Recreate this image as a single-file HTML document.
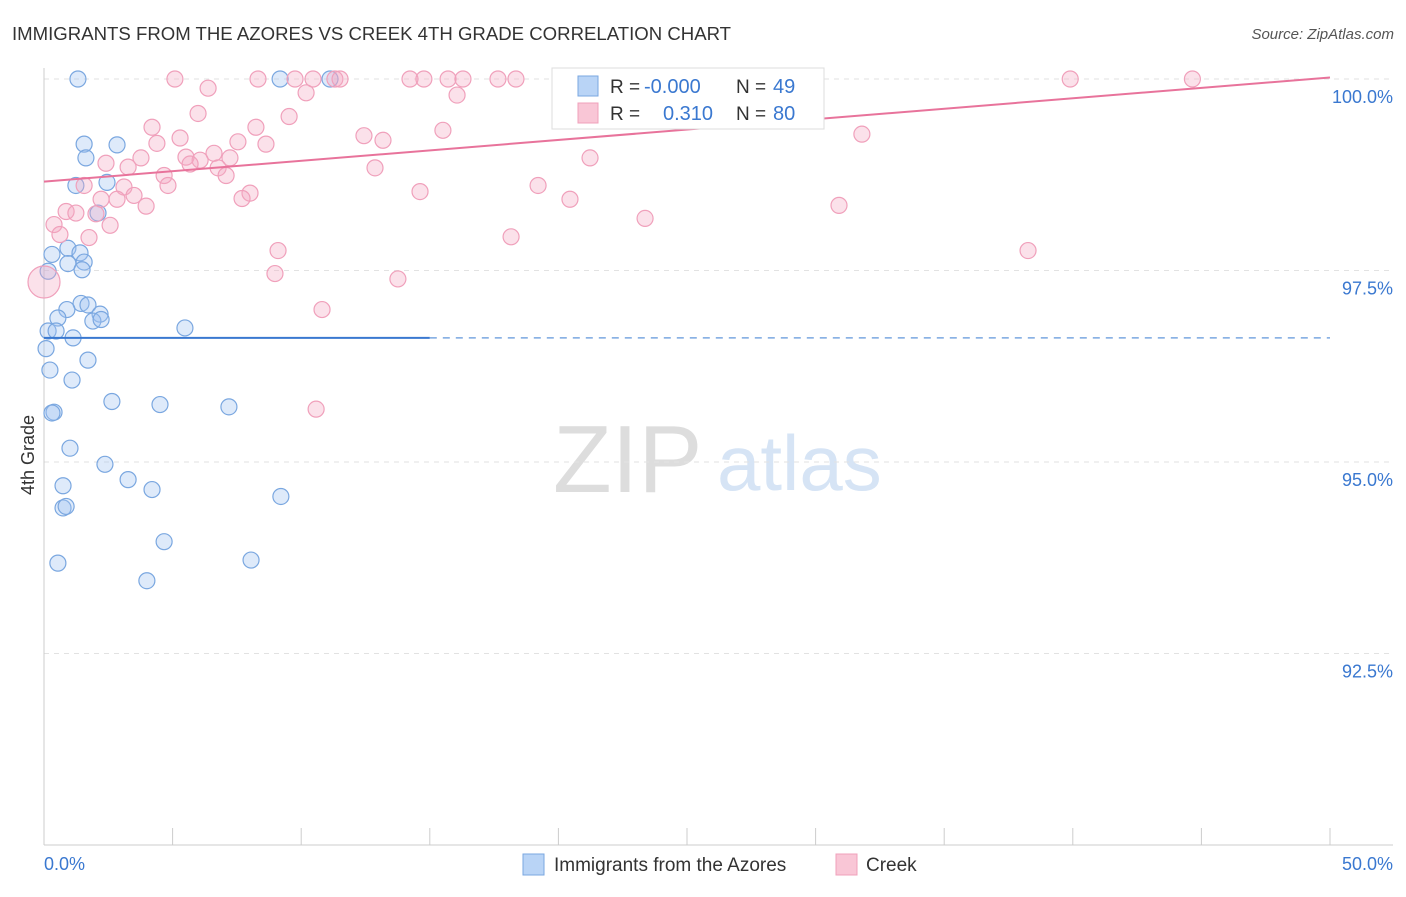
<!DOCTYPE html>
<html><head><meta charset="utf-8"><style>
body{margin:0;background:#fff;font-family:"Liberation Sans",sans-serif;}
svg text{font-family:"Liberation Sans",sans-serif;}
</style></head><body>
<svg id="chart" width="1406" height="892" xmlns="http://www.w3.org/2000/svg">
<text x="12" y="40" font-size="18.6" fill="#333">IMMIGRANTS FROM THE AZORES VS CREEK 4TH GRADE CORRELATION CHART</text>
<text x="1394" y="39" font-size="15" fill="#555" font-style="italic" text-anchor="end">Source: ZipAtlas.com</text>
<g>
<text x="553" y="492" font-size="96" fill="#ddd" font-family="Liberation Serif,serif">ZIP</text>
<text x="717" y="490" font-size="78" fill="#d6e4f5">atlas</text>
</g>
<g id="grid"></g>
<g id="axes"></g>
<g id="pts"></g>
<g id="lines"></g>
<text transform="translate(34,455) rotate(-90)" font-size="18" fill="#333" text-anchor="middle">4th Grade</text>
<g>
<rect x="552" y="68" width="272" height="61" fill="#fff" stroke="#ddd"/>
<rect x="578" y="76" width="20" height="20" fill="#b9d4f6" stroke="#7aa7e0"/>
<rect x="578" y="103" width="20" height="20" fill="#f9c6d6" stroke="#f0a0bb"/>
<text x="610" y="93" font-size="19" fill="#333">R =</text>
<text x="644" y="93" font-size="20" fill="#3a78d0">-0.000</text>
<text x="736" y="93" font-size="19" fill="#333">N =</text>
<text x="773" y="93" font-size="20" fill="#3a78d0">49</text>
<text x="610" y="120" font-size="19" fill="#333">R =</text>
<text x="663" y="120" font-size="20" fill="#3a78d0">0.310</text>
<text x="736" y="120" font-size="19" fill="#333">N =</text>
<text x="773" y="120" font-size="20" fill="#3a78d0">80</text>
</g>
<g>
<rect x="523" y="854" width="21" height="21" fill="#b9d4f6" stroke="#7aa7e0"/>
<text x="554" y="871" font-size="19" fill="#333">Immigrants from the Azores</text>
<rect x="836" y="854" width="21" height="21" fill="#f9c6d6" stroke="#f0a0bb"/>
<text x="866" y="871" font-size="19" fill="#333">Creek</text>
</g>
</svg>
<script>
const yTicks=[100,97.5,95,92.5];
const yTickLabels=["100.0%","97.5%","95.0%","92.5%"];
const xTicks=[0,5,10,15,20,25,30,35,40,45,50];
const blueX=[1.32,9.18,11.12,1.56,2.84,1.63,1.24,2.45,2.1,0.31,0.93,1.4,1.56,0.93,1.48,0.16,1.44,1.71,0.89,0.54,2.18,1.9,2.22,0.16,0.47,1.13,5.48,0.08,1.71,0.23,1.09,2.64,4.51,7.19,0.39,0.31,1.01,2.37,3.27,0.74,4.2,9.21,0.74,0.86,4.67,0.54,8.05,4.0];
const blueY=[100,100,100,99.15,99.14,98.97,98.61,98.65,98.25,97.71,97.79,97.73,97.61,97.59,97.51,97.49,97.07,97.05,96.99,96.88,96.93,96.84,96.86,96.71,96.71,96.62,96.75,96.48,96.33,96.2,96.07,95.79,95.75,95.72,95.65,95.64,95.18,94.97,94.77,94.69,94.64,94.55,94.4,94.42,93.96,93.68,93.72,93.45];
const pinkX=[5.09,8.32,9.76,10.46,11.31,11.51,14.23,14.77,15.71,16.29,17.65,18.35,22.39,22.9,39.9,44.65,6.38,10.19,16.06,5.99,9.53,4.2,8.24,15.51,12.44,5.29,31.8,13.18,7.54,4.39,8.63,6.61,5.52,6.07,7.23,3.77,2.41,21.23,3.27,5.68,6.77,12.87,4.67,7.08,4.82,1.56,3.11,8.01,7.7,3.5,14.62,19.21,2.22,2.84,20.45,3.97,30.91,0.86,1.24,2.02,0.39,2.57,23.37,0.62,1.75,18.16,9.1,38.26,8.98,13.76,10.81,10.58,0,21.81,23.76,24.73];
const pinkY=[100,100,100,100,100,100,100,100,100,100,100,100,100,100,100,100,99.88,99.82,99.79,99.55,99.51,99.37,99.37,99.33,99.26,99.23,99.28,99.2,99.18,99.16,99.15,99.03,98.98,98.94,98.97,98.97,98.9,98.97,98.85,98.89,98.84,98.84,98.74,98.74,98.61,98.61,98.59,98.51,98.44,98.48,98.53,98.61,98.43,98.43,98.43,98.34,98.35,98.27,98.25,98.24,98.1,98.09,98.18,97.97,97.93,97.94,97.76,97.76,97.46,97.39,96.99,95.69,97.35,99.5,99.49,99.53];
const blueTrend=[96.62,96.62];
const pinkTrend=[98.66,100.02];
const NS="http://www.w3.org/2000/svg";
const X0=44,X1=1330,Y0=845,Y1=79;
const xs=v=>X0+(v/50)*(X1-X0);
const ys=v=>Y0-((v-90)/10)*(Y0-Y1);
function mk(t,a,p){const e=document.createElementNS(NS,t);for(const k in a)e.setAttribute(k,a[k]);document.getElementById(p).appendChild(e);return e;}
yTicks.forEach((t,i)=>{
 const g=mk('line',{x1:X0,x2:1393,y1:ys(t),y2:ys(t),stroke:'#e2e2e2','stroke-dasharray':'5,5'},'grid');
 
 
 const l=mk('text',{x:1393,y:ys(t)+24,'font-size':18,fill:'#3a78d0','text-anchor':'end'},'axes');
 l.textContent=yTickLabels[i];
 
 
});
const ax=mk('line',{x1:X0,x2:X0,y1:68,y2:Y0,stroke:'#ccc'},'axes');


const bx=mk('line',{x1:X0,x2:1393,y1:Y0,y2:Y0,stroke:'#ccc'},'axes');


xTicks.forEach(t=>{const e=mk('line',{x1:xs(t),x2:xs(t),y1:Y0,y2:Y0-17,stroke:'#ccc'},'axes');
 
 });
const xl0=mk('text',{x:44,y:870,'font-size':18,fill:'#3a78d0'},'axes');xl0.textContent='0.0%';


const xl1=mk('text',{x:1393,y:870,'font-size':18,fill:'#3a78d0','text-anchor':'end'},'axes');xl1.textContent='50.0%';


blueX.forEach((v,i)=>{const c=mk('circle',{cx:xs(v),cy:ys(blueY[i]),r:8,fill:'rgba(160,196,240,0.35)',stroke:'#7aa7e0','stroke-width':1.2},'pts');
 
 });
pinkX.forEach((v,i)=>{const c=mk('circle',{cx:xs(v),cy:ys(pinkY[i]),r:i==72?16:8,fill:'rgba(244,170,195,0.35)',stroke:'#f0a0bb','stroke-width':1.2},'pts');
 
 });
const b1=mk('line',{x1:xs(0),x2:xs(15),y1:ys(blueTrend[0]),y2:ys(blueTrend[0]+(blueTrend[1]-blueTrend[0])*0.3),stroke:'#3a78d0','stroke-width':2},'lines');


const b2=mk('line',{x1:xs(15),x2:xs(50),y1:ys(blueTrend[0]+(blueTrend[1]-blueTrend[0])*0.3),y2:ys(blueTrend[1]),stroke:'#7aa7e0','stroke-width':1.5,'stroke-dasharray':'7,6'},'lines');


const p1=mk('line',{x1:xs(0),x2:xs(50),y1:ys(pinkTrend[0]),y2:ys(pinkTrend[1]),stroke:'#e8739b','stroke-width':2},'lines');


</script>
</body></html>
